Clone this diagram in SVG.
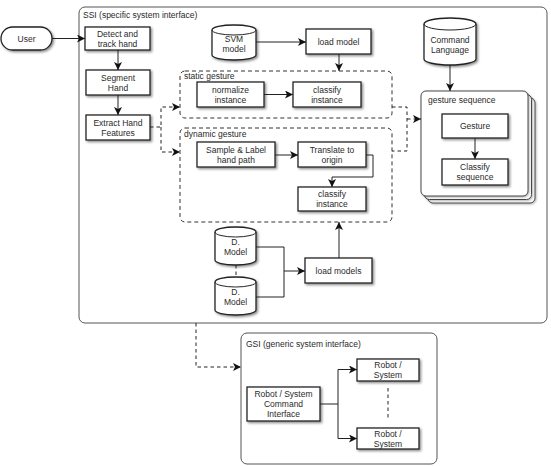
<svg xmlns="http://www.w3.org/2000/svg" width="551" height="466" viewBox="0 0 551 466">
<style>
text{font-family:"Liberation Sans",Arial,sans-serif;font-size:8.5px;fill:#2a2a2a}
.c{text-anchor:middle}
.box{fill:#fff;stroke:#222;stroke-width:1.3;filter:url(#sh)}
.stk{fill:#fff;stroke:#333;stroke-width:0.9;filter:url(#sh2)}
.cont{fill:#fff;stroke:#555;stroke-width:1}
.dash{fill:none;stroke:#333;stroke-width:1;stroke-dasharray:4,3}
.ln{fill:none;stroke:#222;stroke-width:1}
.dl{fill:none;stroke:#222;stroke-width:1;stroke-dasharray:3.5,3}
</style>
<defs>
<filter id="sh" x="-20%" y="-20%" width="150%" height="150%">
<feDropShadow dx="1.5" dy="1.5" stdDeviation="1.2" flood-color="#000" flood-opacity="0.45"/>
</filter>
<filter id="sh2" x="-10%" y="-10%" width="130%" height="130%">
<feDropShadow dx="1" dy="1" stdDeviation="1" flood-color="#000" flood-opacity="0.3"/>
</filter>
<marker id="ar" markerUnits="userSpaceOnUse" markerWidth="9" markerHeight="8" refX="8" refY="4" orient="auto">
<path d="M0,0 L8,4 L0,8 L2,4 z" fill="#111"/>
</marker>
</defs>
<rect width="551" height="466" fill="#fff"/>
<g id="ssi">
<rect class="cont" x="79" y="7" width="468" height="316" rx="6"/>
<text x="83" y="18">SSI (specific system interface)</text>
</g>
<g id="gsi">
<rect class="cont" x="241" y="333" width="196" height="131" rx="6"/>
<text x="246" y="347">GSI (generic system interface)</text>
</g>
<g id="static-gesture">
<rect class="dash" x="180" y="71" width="212" height="47" rx="5"/>
<text x="184" y="79">static gesture</text>
</g>
<g id="dynamic-gesture">
<rect class="dash" x="180" y="128" width="212" height="94" rx="5"/>
<text x="184" y="136.5">dynamic gesture</text>
</g>
<g id="gesture-sequence">
<rect class="stk" x="428" y="98" width="107" height="105" rx="5"/>
<rect class="stk" x="424.5" y="94.5" width="107" height="105" rx="5"/>
<rect class="stk" x="421" y="91" width="107" height="105" rx="5"/>
<text x="428" y="103">gesture sequence</text>
</g>
<g id="user">
<rect class="box" x="1" y="27" width="51" height="23" rx="11.5"/>
<text class="c" x="26.5" y="41.5">User</text>
</g>
<g id="detect">
<rect class="box" x="85" y="27" width="65" height="23"/>
<text class="c" x="117.5" y="36.5">Detect and</text>
<text class="c" x="117.5" y="46.5">track hand</text>
</g>
<g id="segment">
<rect class="box" x="86" y="70" width="64" height="25"/>
<text class="c" x="118" y="80.5">Segment</text>
<text class="c" x="118" y="90.5">Hand</text>
</g>
<g id="extract">
<rect class="box" x="86" y="115" width="64" height="25"/>
<text class="c" x="118" y="125.5">Extract Hand</text>
<text class="c" x="118" y="135.5">Features</text>
</g>
<g id="svm-model">
<path class="box" d="M212,30 a22,5 0 0,1 44,0 v25 a22,5 0 0,1 -44,0 z"/>
<path class="ln" d="M212,30 a22,5 0 0,0 44,0"/>
<text class="c" x="234" y="41.5">SVM</text>
<text class="c" x="234" y="51.5">model</text>
</g>
<g id="load-model">
<rect class="box" x="306" y="29" width="65" height="25"/>
<text class="c" x="338.5" y="44.5">load model</text>
</g>
<g id="command-language">
<path class="box" d="M424,24 a26,6 0 0,1 52,0 v35 a26,6 0 0,1 -52,0 z"/>
<path class="ln" d="M424,24 a26,6 0 0,0 52,0"/>
<text class="c" x="450" y="43">Command</text>
<text class="c" x="450" y="53">Language</text>
</g>
<g id="normalize">
<rect class="box" x="197" y="82" width="67" height="25"/>
<text class="c" x="230.5" y="92.5">normalize</text>
<text class="c" x="230.5" y="102.5">instance</text>
</g>
<g id="classify-static">
<rect class="box" x="293" y="82" width="68" height="25"/>
<text class="c" x="327" y="92.5">classify</text>
<text class="c" x="327" y="102.5">instance</text>
</g>
<g id="sample">
<rect class="box" x="197" y="142" width="78" height="25"/>
<text class="c" x="236" y="152.5">Sample &amp; Label</text>
<text class="c" x="236" y="162.5">hand path</text>
</g>
<g id="translate">
<rect class="box" x="298" y="142" width="68" height="25"/>
<text class="c" x="332" y="152.5">Translate to</text>
<text class="c" x="332" y="162.5">origin</text>
</g>
<g id="classify-dynamic">
<rect class="box" x="298" y="187" width="68" height="24"/>
<text class="c" x="332" y="197">classify</text>
<text class="c" x="332" y="207">instance</text>
</g>
<g id="gesture">
<rect class="box" x="442" y="114" width="66" height="24"/>
<text class="c" x="475" y="129">Gesture</text>
</g>
<g id="classify-sequence">
<rect class="box" x="442" y="159" width="66" height="26"/>
<text class="c" x="475" y="170">Classify</text>
<text class="c" x="475" y="180">sequence</text>
</g>
<g id="d-model-1">
<path class="box" d="M215,232 a20.5,5 0 0,1 41,0 v28 a20.5,5 0 0,1 -41,0 z"/>
<path class="ln" d="M215,232 a20.5,5 0 0,0 41,0"/>
<text class="c" x="235.5" y="245">D.</text>
<text class="c" x="235.5" y="255">Model</text>
</g>
<g id="d-model-2">
<path class="box" d="M215,282 a20.5,5 0 0,1 41,0 v28 a20.5,5 0 0,1 -41,0 z"/>
<path class="ln" d="M215,282 a20.5,5 0 0,0 41,0"/>
<text class="c" x="235.5" y="295">D.</text>
<text class="c" x="235.5" y="305">Model</text>
</g>
<g id="load-models">
<rect class="box" x="305" y="258" width="67" height="25"/>
<text class="c" x="338.5" y="273.5">load models</text>
</g>
<g id="command-interface">
<rect class="box" x="247" y="387" width="73" height="34"/>
<text class="c" x="283.5" y="397">Robot / System</text>
<text class="c" x="283.5" y="407">Command</text>
<text class="c" x="283.5" y="417">Interface</text>
</g>
<g id="robot-1">
<rect class="box" x="357" y="359" width="62" height="22"/>
<text class="c" x="388" y="368">Robot /</text>
<text class="c" x="388" y="378">System</text>
</g>
<g id="robot-2">
<rect class="box" x="357" y="428" width="62" height="21"/>
<text class="c" x="388" y="436.5">Robot /</text>
<text class="c" x="388" y="446.5">System</text>
</g>
<g id="connectors">
<path class="ln" d="M52,38.5 H85" marker-end="url(#ar)"/>
<path class="ln" d="M118,50 V70" marker-end="url(#ar)"/>
<path class="ln" d="M118,95 V115" marker-end="url(#ar)"/>
<path class="ln" d="M256,42 H306" marker-end="url(#ar)"/>
<path class="ln" d="M339,54 V71" marker-end="url(#ar)"/>
<path class="ln" d="M264,94.5 H293" marker-end="url(#ar)"/>
<path class="ln" d="M275,155 H298" marker-end="url(#ar)"/>
<path class="ln" d="M366,155 H373 V177 H332 V187" marker-end="url(#ar)"/>
<path class="ln" d="M450,65 V91" marker-end="url(#ar)"/>
<path class="ln" d="M475,138 V159" marker-end="url(#ar)"/>
<path class="ln" d="M256,247 H284 V297 H256"/>
<path class="ln" d="M284,271 H305" marker-end="url(#ar)"/>
<path class="ln" d="M339,258 V222" marker-end="url(#ar)"/>
<path class="ln" d="M320,404 H338 V369.5 H357" marker-end="url(#ar)"/>
<path class="ln" d="M338,404 V438.5 H357" marker-end="url(#ar)"/>
<path class="dl" d="M150,127 H161 V107 H180" marker-end="url(#ar)"/>
<path class="dl" d="M161,127 V152 H180" marker-end="url(#ar)"/>
<path class="dl" d="M392,107 H407 V151 H392"/>
<path class="dl" d="M407,119 H421" marker-end="url(#ar)"/>
<path class="dl" d="M196,323 V367 H241" marker-end="url(#ar)"/>
<path class="dl" d="M236,265 V277"/>
<path class="dl" d="M388,388 V420"/>
</g>
</svg>
